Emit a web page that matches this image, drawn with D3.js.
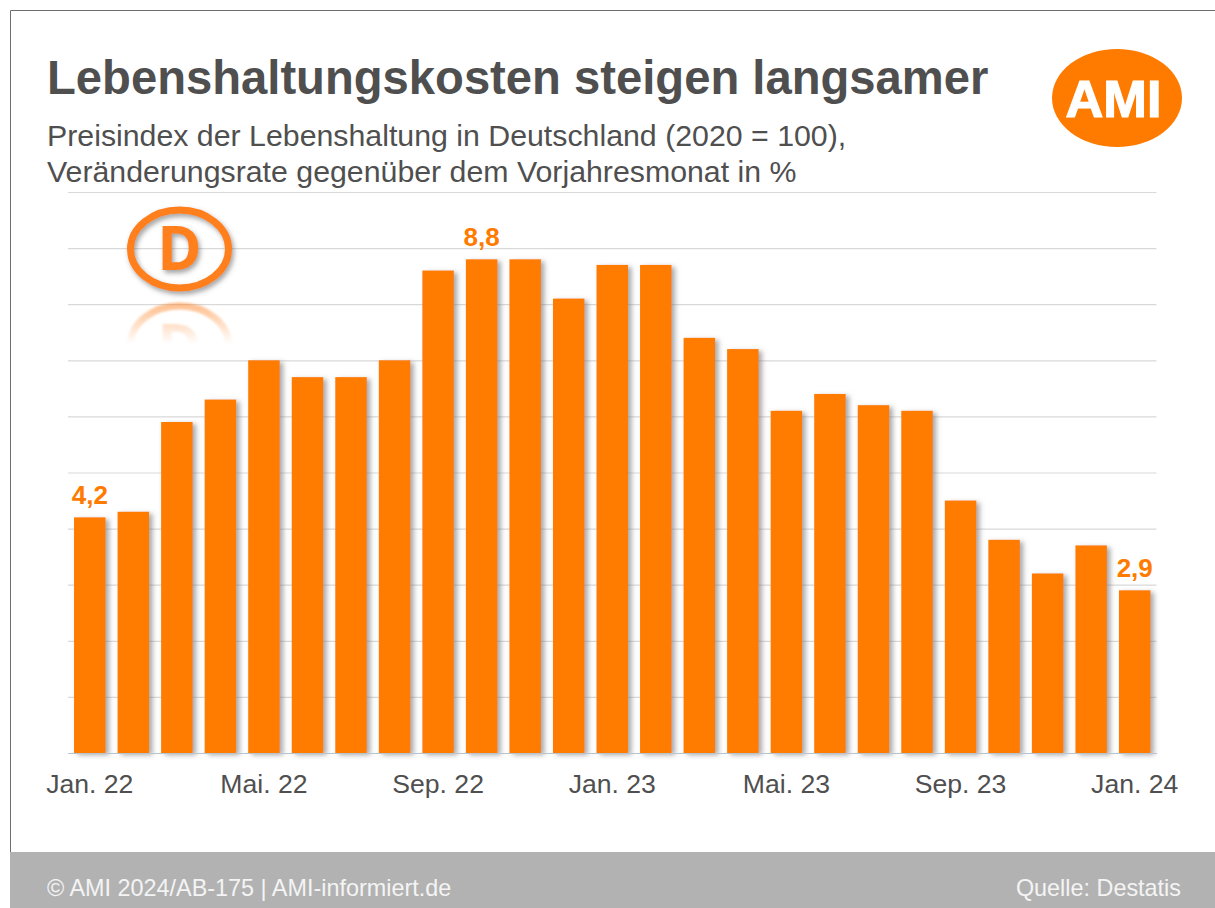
<!DOCTYPE html>
<html>
<head>
<meta charset="utf-8">
<script src="https://cdn.jsdelivr.net/npm/d3@7"></script>
<style>
  html, body { margin: 0; padding: 0; background: #fff; }
  svg { display: block; }
  text { font-family: "Liberation Sans", Arial, sans-serif; }
</style>
</head>
<body>
<div id="chart-area"></div>
<script>
// Data
const months = ['Jan. 22', 'Feb. 22', 'Mär. 22', 'Apr. 22', 'Mai. 22', 'Jun. 22', 'Jul. 22', 'Aug. 22',
    'Sep. 22', 'Okt. 22', 'Nov. 22', 'Dez. 22', 'Jan. 23', 'Feb. 23', 'Mär. 23', 'Apr. 23',
    'Mai. 23', 'Jun. 23', 'Jul. 23', 'Aug. 23', 'Sep. 23', 'Okt. 23', 'Nov. 23', 'Dez. 23', 'Jan. 24'];
const rates = [4.2, 4.3, 5.9, 6.3, 7.0, 6.7, 6.7, 7.0, 8.6, 8.8, 8.8, 8.1, 8.7, 8.7, 7.4, 7.2,
    6.1, 6.4, 6.2, 6.1, 4.5, 3.8, 3.2, 3.7, 2.9];
const xTicks = ['Jan. 22', 'Mai. 22', 'Sep. 22', 'Jan. 23', 'Mai. 23', 'Sep. 23', 'Jan. 24'];
const yTicks = [0, 1, 2, 3, 4, 5, 6, 7, 8, 9, 10];
const valueLabels = ['Jan. 22', 'Okt. 22', 'Jan. 24'];

const orange = '#ff7b00';
const darkText = '#4f4f4f';

// Build SVG
const svg = d3.select('#chart-area')
    .append('svg')
    .attr('width', 1215)
    .attr('height', 908);

const defs = svg.append('defs');

// Bar shadow
const shadow = defs.append('filter')
    .attr('id', 'bar-shadow')
    .attr('x', '-20%').attr('y', '-5%')
    .attr('width', '150%').attr('height', '115%');
shadow.append('feDropShadow')
    .attr('dx', 3.5).attr('dy', 2)
    .attr('stdDeviation', 2.6)
    .attr('flood-color', '#6f6f6f')
    .attr('flood-opacity', 0.6);

// Logo shadow
const logoShadow = defs.append('filter')
    .attr('id', 'logo-shadow')
    .attr('x', '-20%').attr('y', '-20%')
    .attr('width', '140%').attr('height', '140%');
logoShadow.append('feDropShadow')
    .attr('dx', 2).attr('dy', 3)
    .attr('stdDeviation', 2.4)
    .attr('flood-color', '#555')
    .attr('flood-opacity', 0.55);

// Soft edge for the reflection
defs.append('filter')
    .attr('id', 'soft')
    .append('feGaussianBlur')
    .attr('stdDeviation', 1.2);

// Fade for the logo reflection
const fade = defs.append('linearGradient')
    .attr('id', 'fade')
    .attr('gradientUnits', 'userSpaceOnUse')
    .attr('x1', 0).attr('x2', 0)
    .attr('y1', 300).attr('y2', 344);
fade.append('stop').attr('offset', 0).attr('stop-color', '#fff').attr('stop-opacity', 0.55);
fade.append('stop').attr('offset', 1).attr('stop-color', '#fff').attr('stop-opacity', 0);
defs.append('mask')
    .attr('id', 'fade-mask')
    .attr('maskUnits', 'userSpaceOnUse')
    .attr('x', 100).attr('y', 296).attr('width', 160).attr('height', 50)
    .append('rect')
    .attr('x', 100).attr('y', 296).attr('width', 160).attr('height', 50)
    .attr('fill', 'url(#fade)');

// Frame
svg.append('path')
    .attr('d', 'M1215,10.5 H10.5 V852')
    .attr('fill', 'none')
    .attr('stroke', '#6e6e6e')
    .attr('stroke-width', 1);

// Footer
svg.append('rect')
    .attr('x', 10).attr('y', 852)
    .attr('width', 1205).attr('height', 56)
    .attr('fill', '#b2b2b2');
svg.append('text')
    .attr('x', 47).attr('y', 896)
    .attr('font-size', '23.4px')
    .attr('fill', '#f4f4f4')
    .text('© AMI 2024/AB-175 | AMI-informiert.de');
svg.append('text')
    .attr('x', 1181).attr('y', 896)
    .attr('font-size', '23.4px')
    .attr('text-anchor', 'end')
    .attr('fill', '#f4f4f4')
    .text('Quelle: Destatis');

// Titles
svg.append('text')
    .attr('x', 47).attr('y', 94)
    .attr('font-size', '47.2px')
    .attr('font-weight', 'bold')
    .attr('fill', darkText)
    .text('Lebenshaltungskosten steigen langsamer');
svg.append('text')
    .attr('x', 47).attr('y', 146)
    .attr('font-size', '30.3px')
    .attr('fill', darkText)
    .text('Preisindex der Lebenshaltung in Deutschland (2020 = 100),');
svg.append('text')
    .attr('x', 47).attr('y', 182)
    .attr('font-size', '30.3px')
    .attr('fill', darkText)
    .text('Veränderungsrate gegenüber dem Vorjahresmonat in %');

// AMI logo
svg.append('ellipse')
    .attr('cx', 1117).attr('cy', 98)
    .attr('rx', 65).attr('ry', 49)
    .attr('fill', orange);
svg.append('text')
    .attr('x', 1113.5).attr('y', 117)
    .attr('font-size', '51px')
    .attr('font-weight', 'bold')
    .attr('text-anchor', 'middle')
    .attr('textLength', 96)
    .attr('lengthAdjust', 'spacingAndGlyphs')
    .attr('fill', '#fff')
    .attr('stroke', '#fff')
    .attr('stroke-width', 1.2)
    .text('AMI');

// Scales
const x = d3.scaleBand()
    .domain(months)
    .range([68, 1156.5])
    .paddingInner(0.277)
    .paddingOuter(0.139);

const y = d3.scaleLinear()
    .domain([0, 10])
    .range([753, 192]);

// Y grid
const yAxisCall = d3.axisLeft(y)
    .tickValues(yTicks)
    .tickSize(-(1156.5 - 68))
    .tickFormat('');
const yAxis = svg.append('g')
    .attr('class', 'y axis')
    .attr('transform', 'translate(68, 0)')
    .call(yAxisCall);
yAxis.select('.domain').remove();
yAxis.selectAll('line')
    .attr('stroke', '#d9d9d9')
    .attr('stroke-width', 1.2);

// D badge and its reflection
function drawBadge(parent) {
    parent.append('ellipse')
        .attr('cx', 179.5).attr('cy', 249)
        .attr('rx', 49).attr('ry', 39)
        .attr('fill', 'none')
        .attr('stroke', '#ff7f1e')
        .attr('stroke-width', 7);
    parent.append('text')
        .attr('x', 179.5).attr('y', 270)
        .attr('font-size', '60px')
        .attr('font-weight', 'bold')
        .attr('text-anchor', 'middle')
        .attr('style', 'font-family: "Open Sans", sans-serif')
        .attr('fill', '#ff7f1e')
        .text('D');
}
drawBadge(svg.append('g').attr('filter', 'url(#logo-shadow)'));
drawBadge(svg.append('g')
    .attr('mask', 'url(#fade-mask)')
    .append('g')
    .attr('filter', 'url(#soft)')
    .attr('transform', 'translate(0, 594) scale(1, -1)'));

// Bars
svg.append('g')
    .selectAll('rect')
    .data(months)
    .enter()
    .append('rect')
    .attr('x', (d) => x(d))
    .attr('y', (d, i) => y(rates[i]))
    .attr('width', x.bandwidth())
    .attr('height', (d, i) => y(0) - y(rates[i]))
    .attr('fill', orange)
    .attr('filter', 'url(#bar-shadow)');

// X Axis
const xAxisCall = d3.axisBottom(x)
    .tickValues(xTicks)
    .tickSize(0)
    .tickPadding(21);
const xAxis = svg.append('g')
    .attr('class', 'x axis')
    .attr('transform', 'translate(0, 753)')
    .call(xAxisCall);
xAxis.select('.domain')
    .attr('stroke', '#b9c4cf')
    .attr('stroke-width', 1.2);
xAxis.selectAll('text')
    .attr('font-size', '26.6px')
    .attr('style', 'font-family: "Liberation Sans", Arial, sans-serif')
    .attr('fill', darkText);

// Value labels
svg.append('g')
    .selectAll('text')
    .data(valueLabels)
    .enter()
    .append('text')
    .attr('x', (d) => x(d) + x.bandwidth() / 2)
    .attr('y', (d) => y(rates[months.indexOf(d)]) - 13)
    .attr('font-size', '26px')
    .attr('font-weight', 'bold')
    .attr('text-anchor', 'middle')
    .attr('fill', orange)
    .text((d) => String(rates[months.indexOf(d)]).replace('.', ','));
</script>
</body>
</html>
